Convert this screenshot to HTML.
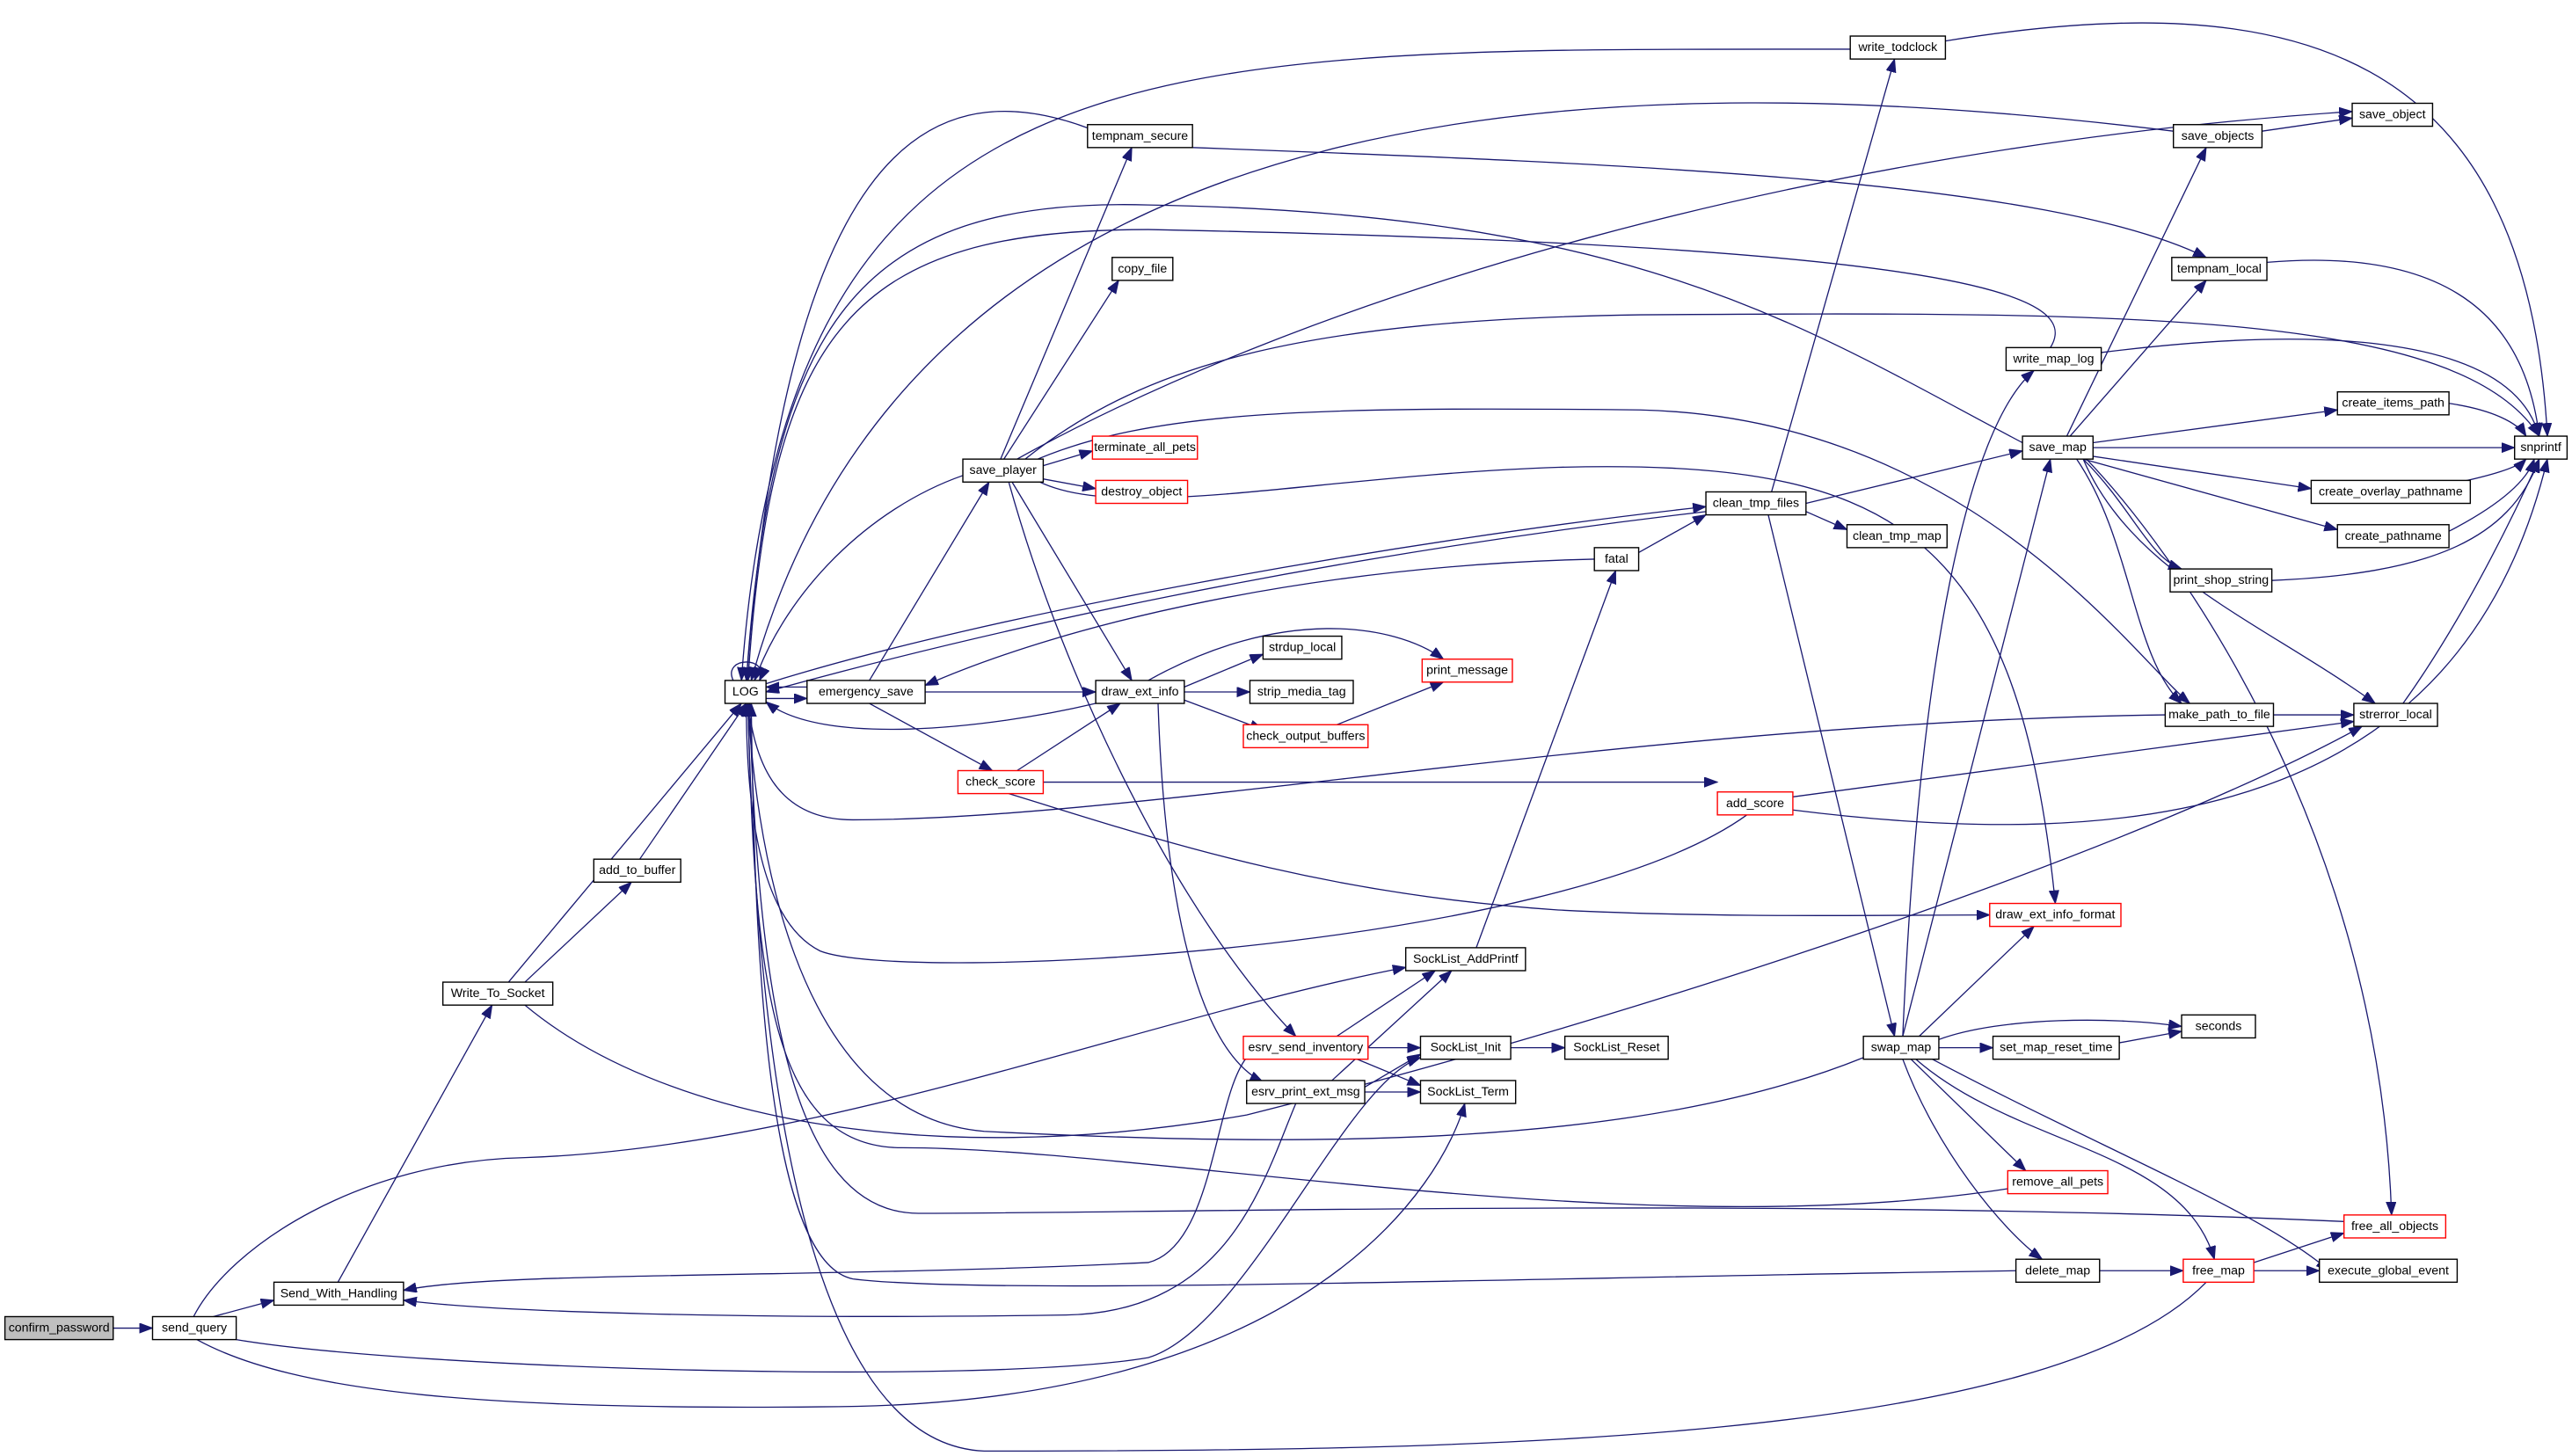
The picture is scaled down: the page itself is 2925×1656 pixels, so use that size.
<!DOCTYPE html>
<html><head><meta charset="utf-8"><style>
html,body{margin:0;padding:0;background:#fff;}
svg{display:block;}
text{font-family:"Liberation Sans",sans-serif;font-size:7.6px;text-anchor:middle;dominant-baseline:central;fill:#000;}
.e{fill:none;stroke:#191970;stroke-width:0.7;marker-end:url(#a);}
.n{fill:#fff;stroke:#000;stroke-width:0.75;}
.r{fill:#fff;stroke:#ff0000;stroke-width:0.75;}
</style></head><body>
<svg width="2925" height="1656" viewBox="0 0 1568 888" preserveAspectRatio="none" xmlns="http://www.w3.org/2000/svg">
<defs><marker id="a" markerUnits="userSpaceOnUse" markerWidth="9" markerHeight="7" refX="8" refY="3" orient="auto"><path d="M0,0 L8,3 L0,6 z" fill="#191970" stroke="#191970" stroke-width="0.5"/></marker></defs>
<g>
<path class="e" d="M69,810 L93,810"/>
<path class="e" d="M130,803 L167,793"/>
<path class="e" d="M118,803 C140,760 220,708 320,706 C500,700 700,620 857,590"/>
<path class="e" d="M144,817 C250,835 600,845 700,828 C760,810 820,660 866,645"/>
<path class="e" d="M120,817 C180,850 300,860 500,858 C800,858 880,720 893,673"/>
<path class="e" d="M206,782 L300,613"/>
<path class="e" d="M310,599 L452,429"/>
<path class="e" d="M320,599 L385,538"/>
<path class="e" d="M320,613 C400,680 560,715 760,680 C1000,620 1300,520 1440,443"/>
<path class="e" d="M390,524 L455,429"/>
<path class="e" d="M447,415 C440,400 470,400 463,415"/>
<path class="e" d="M492,419 L467,419"/>
<path class="e" d="M467,426 L492,426"/>
<path class="e" d="M564,422 L668,422"/>
<path class="e" d="M668,429 C600,445 500,455 467,428"/>
<path class="e" d="M530,429 L605,470"/>
<path class="e" d="M620,470 L683,429"/>
<path class="e" d="M636,477 L1047,477"/>
<path class="e" d="M615,484 C700,510 800,545 950,555 C1050,560 1150,558 1213,558"/>
<path class="e" d="M530,415 L603,294"/>
<path class="e" d="M972,341 C800,345 650,380 564,418"/>
<path class="e" d="M587,290 C530,310 480,360 460,415"/>
<path class="e" d="M610,280 L690,90"/>
<path class="e" d="M612,280 L682,171"/>
<path class="e" d="M636,284 L666,275"/>
<path class="e" d="M630,291 L668,298"/>
<path class="e" d="M617,294 L690,415"/>
<path class="e" d="M615,294 C650,420 720,560 790,632"/>
<path class="e" d="M620,280 C800,180 1100,90 1434,68"/>
<path class="e" d="M625,280 C700,220 800,195 1000,192 C1300,190 1500,190 1548,266"/>
<path class="e" d="M628,282 C700,250 800,248 1000,250 C1200,255 1300,400 1335,429"/>
<path class="e" d="M630,292 C680,320 800,290 950,285 C1150,280 1230,320 1253,551"/>
<path class="e" d="M663,78 C560,40 480,100 455,415"/>
<path class="e" d="M727,90 C1000,100 1250,110 1345,157"/>
<path class="e" d="M1128,30 C700,30 480,20 452,415"/>
<path class="e" d="M1186,25 C1400,-10 1540,30 1553,266"/>
<path class="e" d="M1325,80 C1000,40 560,40 458,415"/>
<path class="e" d="M1379,80 L1434,72"/>
<path class="e" d="M1260,266 L1345,90"/>
<path class="e" d="M1233,270 C1100,200 1000,130 700,125 C520,120 470,200 455,415"/>
<path class="e" d="M1382,160 C1500,150 1540,200 1548,266"/>
<path class="e" d="M1250,212 C1270,180 1200,150 700,140 C520,140 470,200 456,415"/>
<path class="e" d="M1281,215 C1400,200 1530,200 1548,266"/>
<path class="e" d="M1160,632 C1170,400 1200,260 1240,226"/>
<path class="e" d="M1262,266 L1345,171"/>
<path class="e" d="M1276,270 L1425,250"/>
<path class="e" d="M1276,273 L1533,273"/>
<path class="e" d="M1274,278 L1409,298"/>
<path class="e" d="M1270,280 L1425,323"/>
<path class="e" d="M1270,280 C1300,310 1310,340 1330,347"/>
<path class="e" d="M1266,280 C1300,330 1300,400 1330,429"/>
<path class="e" d="M1270,280 C1300,350 1380,380 1448,429"/>
<path class="e" d="M1272,280 C1320,330 1450,500 1458,741"/>
<path class="e" d="M1101,307 L1233,275"/>
<path class="e" d="M1101,312 L1126,323"/>
<path class="e" d="M1080,300 L1155,36"/>
<path class="e" d="M1078,314 L1155,632"/>
<path class="e" d="M1040,312 C800,340 600,385 467,422"/>
<path class="e" d="M467,417 C600,375 850,330 1040,309"/>
<path class="e" d="M999,337 L1040,314"/>
<path class="e" d="M900,578 L985,348"/>
<path class="e" d="M1493,246 C1520,250 1535,258 1540,266"/>
<path class="e" d="M1490,296 C1520,290 1535,285 1540,280"/>
<path class="e" d="M1493,324 C1520,310 1540,295 1545,280"/>
<path class="e" d="M1385,354 C1480,350 1530,330 1548,280"/>
<path class="e" d="M1465,429 C1500,380 1530,320 1548,280"/>
<path class="e" d="M1386,436 L1435,436"/>
<path class="e" d="M1320,436 C1000,440 700,500 520,500 C470,500 460,460 456,429"/>
<path class="e" d="M1093,486 L1435,440"/>
<path class="e" d="M1093,494 C1300,520 1500,500 1553,280"/>
<path class="e" d="M1065,497 C950,580 550,600 500,580 C460,560 455,480 455,429"/>
<path class="e" d="M722,419 L770,399"/>
<path class="e" d="M722,422 L762,422"/>
<path class="e" d="M722,427 L770,445"/>
<path class="e" d="M700,415 C780,370 850,380 880,402"/>
<path class="e" d="M815,442 L880,416"/>
<path class="e" d="M706,429 C710,550 730,640 770,660"/>
<path class="e" d="M815,632 L875,592"/>
<path class="e" d="M834,639 L866,639"/>
<path class="e" d="M825,645 L866,662"/>
<path class="e" d="M760,645 C740,670 740,760 700,770 C500,780 300,775 246,787"/>
<path class="e" d="M812,659 L885,592"/>
<path class="e" d="M832,663 L866,643"/>
<path class="e" d="M832,666 L866,666"/>
<path class="e" d="M790,673 C770,720 750,800 650,802 C450,805 300,800 246,793"/>
<path class="e" d="M921,639 L954,639"/>
<path class="e" d="M1136,645 C1000,700 800,700 600,690 C480,680 460,500 456,429"/>
<path class="e" d="M1160,632 L1250,280"/>
<path class="e" d="M1170,632 L1240,565"/>
<path class="e" d="M1182,639 L1215,639"/>
<path class="e" d="M1182,634 C1220,620 1290,620 1330,626"/>
<path class="e" d="M1292,636 L1330,629"/>
<path class="e" d="M1165,646 L1235,714"/>
<path class="e" d="M1160,646 C1180,700 1220,750 1245,768"/>
<path class="e" d="M1168,646 C1230,700 1330,700 1350,768"/>
<path class="e" d="M1178,646 C1280,700 1380,740 1420,775"/>
<path class="e" d="M1224,725 C1000,760 700,700 550,700 C470,700 460,600 456,429"/>
<path class="e" d="M1429,745 C1100,730 700,740 560,740 C480,740 462,600 457,429"/>
<path class="e" d="M1229,775 C900,780 600,790 520,780 C470,770 460,600 458,429"/>
<path class="e" d="M1280,775 L1331,775"/>
<path class="e" d="M1345,782 C1250,880 900,885 600,885 C480,880 460,600 456,429"/>
<path class="e" d="M1374,770 L1429,752"/>
<path class="e" d="M1374,775 L1414,775"/>
</g>
<g>
<rect x="3" y="803" width="66" height="14" fill="#bfbfbf" stroke="#000" stroke-width="0.75"/><text x="36" y="810">confirm_password</text>
<rect class="n" x="93" y="803" width="51" height="14"/><text x="118.5" y="810">send_query</text>
<rect class="n" x="167" y="782" width="79" height="14"/><text x="206.5" y="789">Send_With_Handling</text>
<rect class="n" x="270" y="599" width="67" height="14"/><text x="303.5" y="606">Write_To_Socket</text>
<rect class="n" x="362" y="524" width="53" height="14"/><text x="388.5" y="531">add_to_buffer</text>
<rect class="n" x="442" y="415" width="25" height="14"/><text x="454.5" y="422">LOG</text>
<rect class="n" x="492" y="415" width="72" height="14"/><text x="528" y="422">emergency_save</text>
<rect class="n" x="668" y="415" width="54" height="14"/><text x="695" y="422">draw_ext_info</text>
<rect class="r" x="584" y="470" width="52" height="14"/><text x="610" y="477">check_score</text>
<rect class="n" x="663" y="76" width="64" height="14"/><text x="695" y="83">tempnam_secure</text>
<rect class="n" x="678" y="157" width="37" height="14"/><text x="696.5" y="164">copy_file</text>
<rect class="n" x="587" y="280" width="49" height="14"/><text x="611.5" y="287">save_player</text>
<rect class="r" x="666" y="266" width="64" height="14"/><text x="698" y="273">terminate_all_pets</text>
<rect class="r" x="668" y="293" width="56" height="14"/><text x="696" y="300">destroy_object</text>
<rect class="n" x="770" y="388" width="48" height="14"/><text x="794" y="395">strdup_local</text>
<rect class="n" x="762" y="415" width="63" height="14"/><text x="793.5" y="422">strip_media_tag</text>
<rect class="r" x="867" y="402" width="55" height="14"/><text x="894.5" y="409">print_message</text>
<rect class="r" x="758" y="442" width="76" height="14"/><text x="796" y="449">check_output_buffers</text>
<rect class="n" x="972" y="334" width="27" height="14"/><text x="985.5" y="341">fatal</text>
<rect class="n" x="1040" y="300" width="61" height="14"/><text x="1070.5" y="307">clean_tmp_files</text>
<rect class="n" x="1126" y="320" width="61" height="14"/><text x="1156.5" y="327">clean_tmp_map</text>
<rect class="n" x="1128" y="22" width="58" height="14"/><text x="1157" y="29">write_todclock</text>
<rect class="n" x="1325" y="76" width="54" height="14"/><text x="1352" y="83">save_objects</text>
<rect class="n" x="1434" y="63" width="49" height="14"/><text x="1458.5" y="70">save_object</text>
<rect class="n" x="1324" y="157" width="58" height="14"/><text x="1353" y="164">tempnam_local</text>
<rect class="n" x="1223" y="212" width="58" height="14"/><text x="1252" y="219">write_map_log</text>
<rect class="n" x="1233" y="266" width="43" height="14"/><text x="1254.5" y="273">save_map</text>
<rect class="n" x="1425" y="239" width="68" height="14"/><text x="1459" y="246">create_items_path</text>
<rect class="n" x="1533" y="266" width="32" height="14"/><text x="1549" y="273">snprintf</text>
<rect class="n" x="1409" y="293" width="97" height="14"/><text x="1457.5" y="300">create_overlay_pathname</text>
<rect class="n" x="1425" y="320" width="68" height="14"/><text x="1459" y="327">create_pathname</text>
<rect class="n" x="1323" y="347" width="62" height="14"/><text x="1354" y="354">print_shop_string</text>
<rect class="n" x="1320" y="429" width="66" height="14"/><text x="1353" y="436">make_path_to_file</text>
<rect class="n" x="1435" y="429" width="51" height="14"/><text x="1460.5" y="436">strerror_local</text>
<rect class="r" x="1047" y="483" width="46" height="14"/><text x="1070" y="490">add_score</text>
<rect class="r" x="1213" y="551" width="80" height="14"/><text x="1253" y="558">draw_ext_info_format</text>
<rect class="n" x="857" y="578" width="73" height="14"/><text x="893.5" y="585">SockList_AddPrintf</text>
<rect class="r" x="758" y="632" width="76" height="14"/><text x="796" y="639">esrv_send_inventory</text>
<rect class="n" x="866" y="632" width="55" height="14"/><text x="893.5" y="639">SockList_Init</text>
<rect class="n" x="954" y="632" width="63" height="14"/><text x="985.5" y="639">SockList_Reset</text>
<rect class="n" x="760" y="659" width="72" height="14"/><text x="796" y="666">esrv_print_ext_msg</text>
<rect class="n" x="866" y="659" width="58" height="14"/><text x="895" y="666">SockList_Term</text>
<rect class="n" x="1136" y="632" width="46" height="14"/><text x="1159" y="639">swap_map</text>
<rect class="n" x="1215" y="632" width="77" height="14"/><text x="1253.5" y="639">set_map_reset_time</text>
<rect class="n" x="1330" y="619" width="45" height="14"/><text x="1352.5" y="626">seconds</text>
<rect class="r" x="1224" y="714" width="61" height="14"/><text x="1254.5" y="721">remove_all_pets</text>
<rect class="r" x="1429" y="741" width="62" height="14"/><text x="1460" y="748">free_all_objects</text>
<rect class="n" x="1229" y="768" width="51" height="14"/><text x="1254.5" y="775">delete_map</text>
<rect class="r" x="1331" y="768" width="43" height="14"/><text x="1352.5" y="775">free_map</text>
<rect class="n" x="1414" y="768" width="84" height="14"/><text x="1456" y="775">execute_global_event</text>
</g>
</svg>
</body></html>
